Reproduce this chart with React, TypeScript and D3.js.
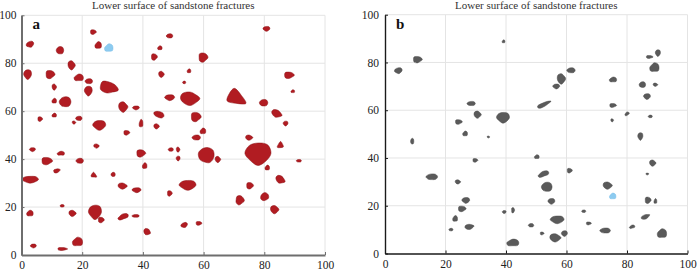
import React, { useRef, useEffect } from "react";
import * as d3 from "d3";

// fracture patches: [x, y, width, height, rotation(deg), shape]
const fracturesA = [
	[2.8, 87.9, 2.6, 2.5, -20], [23.6, 93, 2.0, 2.1], [25.3, 87.5, 2.3, 2.9],
	[12.7, 85.4, 2.3, 3.7], [16.5, 79.2, 2.6, 3.7], [2.0, 75.4, 2.6, 4.2],
	[9.4, 75.3, 3.0, 3.7], [18.9, 74, 3.3, 2.9], [22.2, 72.5, 2.3, 2.5],
	[10.8, 70.1, 1.6, 2.5], [22, 68.5, 2.6, 4.2], [28.6, 69.9, 6.2, 5.0, 15],
	[10.8, 64.3, 1.6, 2.1], [14.4, 63.9, 3.6, 5.0], [33.5, 61.8, 3.3, 4.2],
	[37.7, 61.4, 2.3, 1.7], [43.7, 82.6, 2.0, 2.9], [45.6, 86.4, 1.6, 1.7],
	[48.8, 91.4, 2.0, 2.1], [46.1, 75.4, 2.0, 2.5], [48.8, 65.7, 3.3, 2.5],
	[6.1, 56.7, 1.6, 2.1], [10.8, 58.3, 1.6, 1.7], [18.9, 57, 2.0, 2.1],
	[17.3, 55.3, 1.3, 1.3], [25.6, 54.2, 4.3, 4.2], [34.6, 51, 2.0, 2.1],
	[39.4, 54.9, 1.3, 3.3], [45.3, 58.6, 3.3, 2.9, 20], [44.5, 53.7, 2.0, 2.1],
	[80.7, 94.4, 2.3, 2.1], [59.8, 82.4, 3.0, 4.2], [55.2, 76.8, 1.3, 1.7],
	[53.6, 72, 1.0, 1.3], [55.5, 65.3, 6.9, 5.4], [70.6, 65.7, 6.9, 6.2, 30, 5],
	[88.1, 75, 3.3, 2.9], [89.4, 68.3, 1.3, 1.3], [79.8, 63.5, 2.6, 3.3],
	[84.1, 59, 3.9, 2.9, 20], [87, 54.9, 1.6, 2.1], [57.4, 57.6, 3.3, 4.2],
	[59.8, 51.7, 2.0, 2.5], [57.6, 49, 2.6, 2.5], [75, 49, 2.6, 2.1],
	[3.6, 44, 2.0, 1.7], [8.3, 39.2, 3.6, 3.3], [13, 42.4, 2.6, 1.7],
	[19.2, 39.3, 2.3, 2.5], [24.7, 45.5, 2.0, 1.7], [2.8, 31.5, 5.6, 2.9],
	[11.6, 35.1, 2.3, 1.7, -15], [23.8, 33.3, 2.0, 2.1, 30, 5], [30.2, 33.6, 1.3, 2.1],
	[33.3, 28.8, 3.3, 2.5], [37.9, 27.1, 3.0, 2.1], [39.3, 42.4, 3.0, 3.3],
	[40.6, 37.2, 1.6, 2.5], [49.2, 44, 1.6, 1.7], [51.6, 44, 1.3, 2.1],
	[51.6, 40.3, 1.3, 2.1], [48.8, 25.7, 1.6, 2.5], [2.8, 17.4, 2.3, 2.5],
	[13.4, 20.5, 1.3, 1.3], [16.8, 17.4, 2.6, 2.5], [24.2, 18, 4.3, 6.2],
	[26.2, 14.6, 2.0, 2.5], [33.5, 16, 3.9, 2.1, -20], [37.6, 16.3, 2.3, 1.3],
	[41.4, 9.7, 2.6, 2.5, 25], [3.9, 3.8, 2.0, 1.7], [13.4, 2.5, 3.3, 1.3],
	[18.5, 5.5, 3.6, 3.7], [60.9, 41.7, 4.9, 7.5, 15], [64.7, 39.9, 2.0, 2.5],
	[77.9, 42.4, 8.6, 9.6], [85.3, 45.8, 2.0, 2.9, 30, 5], [81, 36.4, 1.6, 2.1],
	[91.4, 39.3, 1.6, 1.3], [85.3, 31.5, 3.6, 2.9, 25], [54.7, 29.2, 5.6, 4.2],
	[75.2, 28.9, 2.3, 2.9], [71.9, 22.9, 3.0, 3.7, -35], [80.1, 24.3, 2.6, 3.7, -30],
	[83.4, 19, 3.0, 3.3], [53.6, 12.5, 2.3, 2.1, -20], [58.4, 13.2, 2.0, 1.7],
];
const blueA = [[28.8, 86.4, 3.0, 3.3]];

const fracturesB = [
	[4.4, 76.6, 2.6, 2.5, -10], [10.7, 81.2, 3.0, 2.9], [39.2, 88.8, 1.0, 1.3],
	[28.5, 62.8, 2.6, 2.1], [30.6, 58.2, 2.6, 2.9], [39, 57, 4.3, 4.6],
	[24.3, 55.1, 2.3, 2.1], [26.5, 50.2, 1.7, 2.1], [9, 47, 1.0, 2.9],
	[34.2, 48.8, 1.0, 0.8], [90.2, 84, 1.7, 2.9], [87.4, 82.3, 2.3, 1.3],
	[89.1, 77.9, 3.3, 3.8], [61.5, 76.7, 2.6, 2.5], [58.3, 73.2, 3.0, 4.2],
	[56.6, 70, 2.3, 2.1], [52.4, 62.3, 5.0, 1.7, -25], [75.4, 72.8, 2.6, 2.1],
	[85.1, 70.7, 2.0, 2.9], [89.4, 70.7, 1.7, 1.3], [86.6, 65.8, 2.3, 2.5],
	[75.3, 62, 2.3, 1.7], [80, 58.5, 1.7, 1.3, -30], [87.7, 57.4, 1.3, 1.3],
	[75.1, 55.8, 1.0, 1.3], [84.4, 49.1, 1.7, 3.3], [29.8, 39, 1.7, 1.7],
	[50.2, 40.5, 1.7, 1.7], [15.5, 32.1, 3.6, 2.9], [24.1, 30, 2.0, 1.7],
	[26.7, 22.3, 2.6, 2.5], [25.4, 18.7, 2.6, 2.5], [23.2, 14.6, 1.7, 2.5],
	[21.8, 10, 1.3, 1.3], [27.9, 11.2, 3.3, 2.1, -10], [39.4, 17.4, 1.3, 1.3],
	[42.3, 18.1, 1.0, 2.5], [42.3, 4.5, 4.3, 2.9], [48.3, 11.8, 1.7, 1.7],
	[88.5, 37.9, 2.3, 2.5], [86.7, 33.3, 1.0, 0.8], [61, 34.7, 1.7, 2.1],
	[52.4, 33.3, 4.0, 2.1, -20], [53.5, 27.9, 3.3, 4.6], [73.6, 28.5, 3.3, 2.9],
	[55, 21.9, 2.3, 2.5], [86.9, 22.3, 2.0, 2.9], [89.4, 21.9, 1.0, 2.1],
	[65.7, 17.7, 1.3, 1.3], [86.1, 15.4, 3.3, 1.7, -25], [56.9, 14.2, 4.6, 3.3],
	[67.3, 12.6, 1.7, 1.3], [81.7, 11.2, 2.0, 1.3, -15], [72.8, 9.6, 3.3, 2.5],
	[56.3, 6.6, 4.0, 3.3], [59.3, 8.4, 2.0, 2.5], [51.9, 8.4, 1.3, 1.3],
	[91.6, 8.4, 3.3, 3.8],
];
const blueB = [[75.3, 24, 2.3, 2.5]];

const ticks = [0, 20, 40, 60, 80, 100];
const title = "Lower surface of sandstone fractures";

// outline templates (radius factors around the patch)
const shapes = [
	[1, 0.9, 1.05, 0.85, 1, 0.95, 0.9, 1.05],
	[1.1, 0.8, 0.95, 1, 0.85, 1.05, 0.9, 0.95],
	[0.9, 1.05, 0.85, 1.1, 0.95, 0.8, 1.05, 1],
	[1.05, 1, 0.8, 0.95, 1.1, 0.9, 0.85, 1],
	[0.95, 0.85, 1.1, 0.9, 0.9, 1.05, 1, 0.8],
	[1.12, 0.72, 1.12, 0.72, 1.12, 0.72],
];

const panels = [
	{ label: "a", data: fracturesA, blue: blueA, fill: "#b11c22", edge: "#8a1015", axis: "#6e6e6e", axisW: 2, x: [21.5, 325], y: [255, 15.3] },
	{ label: "b", data: fracturesB, blue: blueB, fill: "#5a5a5a", edge: "#4a4a4a", axis: "#1a1a1a", axisW: 1.4, x: [385, 687.5], y: [253.5, 14.7] },
];

const blobPath = (f, i, xs, ys) => {
	const [x, y, w, h, rot = 0, s] = f;
	const cx = xs(x), cy = ys(y);
	const rx = (xs(w) - xs(0)) / 2, ry = (ys(0) - ys(h)) / 2;
	const t = shapes[s !== undefined ? s : i % 5];
	const a = (rot * Math.PI) / 180;
	const pts = t.map((r, k) => {
		const th = (k / t.length) * 2 * Math.PI;
		const px = rx * r * Math.cos(th), py = ry * r * Math.sin(th);
		return [cx + px * Math.cos(a) - py * Math.sin(a), cy + px * Math.sin(a) + py * Math.cos(a)];
	});
	return d3.line().curve(d3.curveCatmullRomClosed)(pts);
};

const drawChart = (svgRef) => {
	const svg = d3.select(svgRef.current);
	svg.selectAll("*").remove();
	const font = "'Liberation Serif', 'Times New Roman', serif";

	panels.forEach((p) => {
		const xs = d3.scaleLinear().domain([0, 100]).range(p.x);
		const ys = d3.scaleLinear().domain([0, 100]).range(p.y);
		const g = svg.append("g");

		// grid
		g.selectAll(".vg").data(ticks.slice(1)).enter().append("line")
			.attr("x1", (d) => xs(d)).attr("x2", (d) => xs(d))
			.attr("y1", ys(0)).attr("y2", ys(100))
			.attr("stroke", "#e4e4e4").attr("stroke-width", 1);
		g.selectAll(".hg").data(ticks.slice(1)).enter().append("line")
			.attr("y1", (d) => ys(d)).attr("y2", (d) => ys(d))
			.attr("x1", xs(0)).attr("x2", xs(100))
			.attr("stroke", "#e4e4e4").attr("stroke-width", 1);

		// fractures
		g.selectAll(".frac").data(p.data).enter().append("path")
			.attr("d", (d, i) => blobPath(d, i, xs, ys))
			.attr("fill", p.fill).attr("stroke", p.edge).attr("stroke-width", 0.5);
		g.selectAll(".blue").data(p.blue).enter().append("path")
			.attr("d", (d, i) => blobPath(d, i + 2, xs, ys))
			.attr("fill", "#8ccbf0").attr("stroke", "#7bbde6").attr("stroke-width", 0.5);

		// axes
		const xAxis = d3.axisBottom(xs).tickValues(ticks).tickSizeInner(-3).tickSizeOuter(0).tickPadding(6);
		const yAxis = d3.axisLeft(ys).tickValues(ticks).tickSizeInner(-3).tickSizeOuter(0).tickPadding(p.label === "a" ? 5 : 6);
		const gx = g.append("g").attr("transform", `translate(0,${ys(0)})`).call(xAxis);
		const gy = g.append("g").attr("transform", `translate(${xs(0)},0)`).call(yAxis);
		[gx, gy].forEach((ax) => {
			ax.select(".domain").attr("stroke", p.axis).attr("stroke-width", p.axisW);
			ax.selectAll(".tick line").attr("stroke", p.axis).attr("stroke-width", 1);
			ax.selectAll(".tick text").attr("fill", "#222").attr("font-size", 11.5).attr("font-family", font);
		});

		g.append("text").text(title)
			.attr("x", xs(50)).attr("y", 8.5).attr("text-anchor", "middle")
			.attr("font-size", 11).attr("font-family", font).attr("fill", "#333");
		g.append("text").text(p.label)
			.attr("x", xs(0) + 11).attr("y", 28.5)
			.attr("font-size", 15).attr("font-weight", "bold").attr("font-family", font).attr("fill", "#111");
	});
};

const App = () => {
	const svg = useRef(null);
	useEffect(() => {
		drawChart(svg);
	}, []);
	return (
		<div style={{ position: "absolute", left: 0, top: 0 }}>
			<svg ref={svg} width={700} height={270} style={{ display: "block", background: "#fff" }} />
		</div>
	);
};

export default App;
